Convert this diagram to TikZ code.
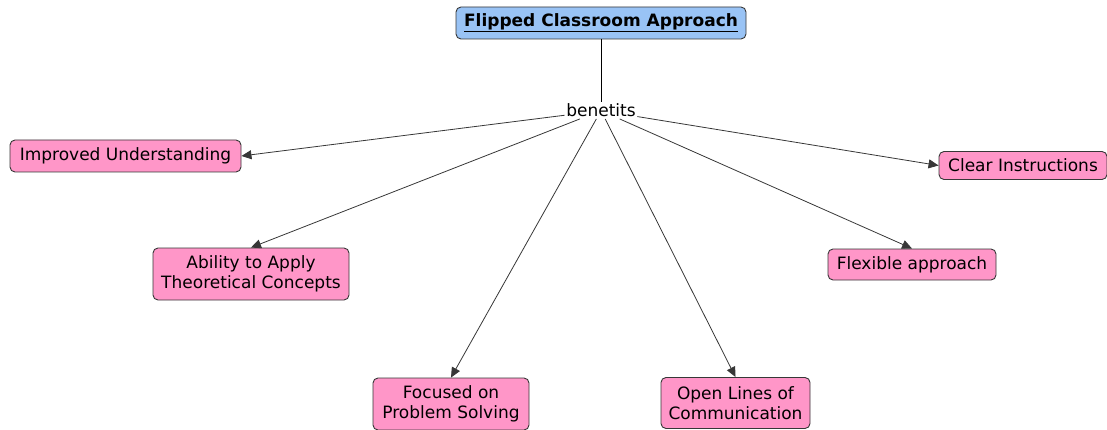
\documentclass[tikz,border=0pt]{standalone}
\usepackage{fontspec}
\setmainfont{DejaVu Sans}
\usetikzlibrary{arrows.meta}
\definecolor{conceptpink}{RGB}{255,150,200}
\definecolor{rootblue}{RGB}{153,195,245}
\definecolor{edgegray}{RGB}{55,55,55}
\tikzset{
  concept/.style={draw=edgegray, line width=0.9pt, fill=conceptpink, rounded corners=5pt,
    inner sep=0pt, align=center, font=\fontsize{17}{20}\selectfont},
  root/.style={concept, fill=rootblue, font=\fontsize{17}{20}\selectfont\bfseries},
  linkword/.style={inner sep=1.5pt, font=\fontsize{17}{20}\selectfont},
  arr/.style={draw=edgegray, line width=0.8pt, -{Triangle[length=10pt,width=9pt]}}
}
\begin{document}
\begin{tikzpicture}[x=1pt,y=-1pt]
  \useasboundingbox (0,0) rectangle (1107,430);

  % root concept and the linking phrase
  \node[root, minimum width=290pt, minimum height=32pt] (top) at (601,23)
    {\underline{Flipped Classroom Approach}};
  \node[linkword, anchor=base] (ben) at (601,117) {benetits};

  % concepts reached through the linking phrase
  \node[concept, minimum width=231pt, minimum height=32pt] (impr) at (125.5,156) {Improved Understanding};
  \node[concept, minimum width=168pt, minimum height=28pt] (clear) at (1023,165.5) {Clear Instructions};
  \node[concept, minimum width=196pt, minimum height=52pt] (ability) at (251,274) {Ability to Apply\\Theoretical Concepts};
  \node[concept, minimum width=168pt, minimum height=31pt] (flex) at (912,264.5) {Flexible approach};
  \node[concept, minimum width=156pt, minimum height=52pt] (focus) at (451,404) {Focused on\\Problem Solving};
  \node[concept, minimum width=149pt, minimum height=51pt] (open) at (735.5,403) {Open Lines of\\Communication};

  % connectors, each meeting the nearest side of its concept
  \draw[black, line width=0.9pt] (top) -- (ben);
  \draw[arr] (ben) -- (impr.east);
  \draw[arr] (ben) -- (clear.west);
  \draw[arr] (ben) -- (ability.north);
  \draw[arr] (ben) -- (flex.north);
  \draw[arr] (ben) -- (focus.north);
  \draw[arr] (ben) -- (open.north);
\end{tikzpicture}
\end{document}
